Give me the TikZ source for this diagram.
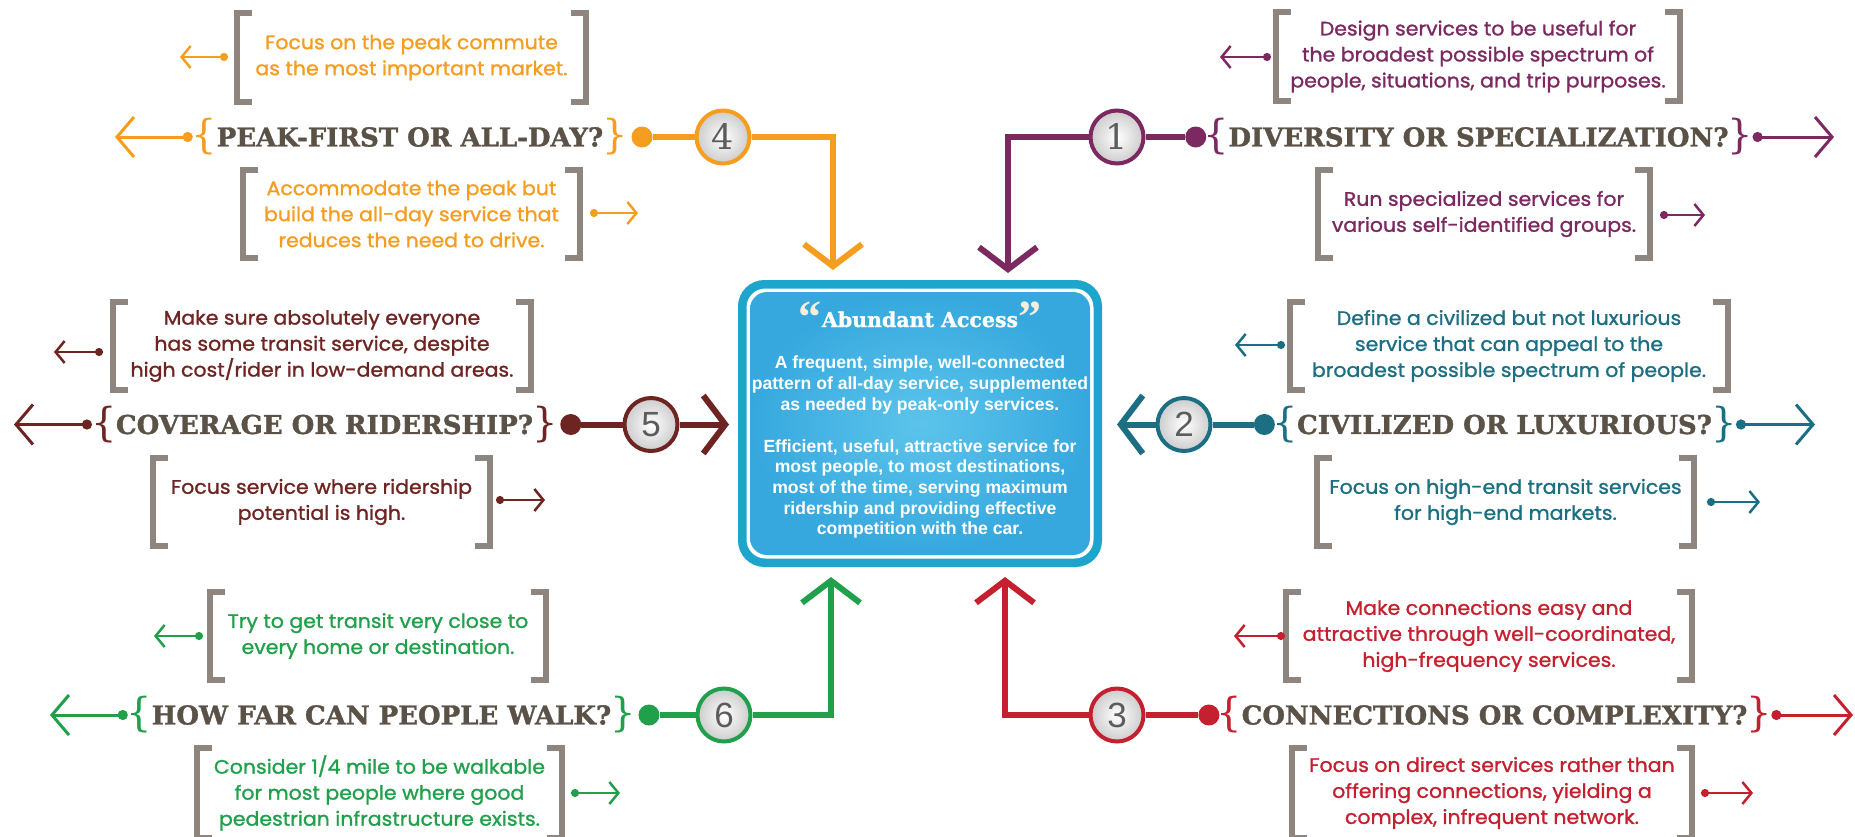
\documentclass[tikz,border=0pt]{standalone}
\usepackage{fontspec}
\usetikzlibrary{arrows.meta}
\setmainfont{Liberation Sans}
\newfontfamily\headfont{DejaVu Serif}[FakeBold=1.3]
\newfontfamily\bracefont{DejaVu Serif}
\newfontfamily\quotefont{Liberation Serif}
\newfontfamily\descfont{Poppins}[FakeBold=1.2,FakeStretch=1.05]
\newfontfamily\ctrfont{Liberation Sans}
\newfontfamily\numsans{Liberation Sans}
\newfontfamily\numserif{DejaVu Serif}
\definecolor{corange}{HTML}{F59D1F}
\definecolor{cpurple}{HTML}{7B2960}
\definecolor{cmaroon}{HTML}{6E2421}
\definecolor{cteal}{HTML}{1C6F83}
\definecolor{cgreen}{HTML}{21A04C}
\definecolor{cred}{HTML}{C4202F}
\definecolor{headgrey}{HTML}{5A5147}
\definecolor{brkgrey}{HTML}{8E867E}
\definecolor{boxedge}{HTML}{1DA5CC}
\definecolor{boxin}{HTML}{5CC4EB}
\definecolor{boxout}{HTML}{36A8DE}
\definecolor{numgrey}{HTML}{5C5C5C}
\definecolor{quotecol}{HTML}{F6EEDD}
\newcommand\brackets[1]{%
  \draw[brk] ([xshift=15pt]#1.north west) -- (#1.north west) -- (#1.south west) -- ([xshift=15pt]#1.south west);
  \draw[brk] ([xshift=-15pt]#1.north east) -- (#1.north east) -- (#1.south east) -- ([xshift=-15pt]#1.south east);}
\begin{document}
\begin{tikzpicture}[x=1pt,y=-1pt,
  conn/.style={line width=6pt},
  mainarr/.style={-{Straight Barb[length=22pt,width=58pt]}},
  endarr/.style={line width=3pt,{Circle[length=10pt,width=10pt]}-{Straight Barb[length=17pt,width=40pt]}},
  smallarr/.style={line width=2.5pt,{Circle[length=8pt,width=8pt]}-{Straight Barb[length=9pt,width=22pt]}},
  bigdot/.style={circle,inner sep=0pt,minimum size=21pt},
  numc/.style={circle,inner sep=0pt,minimum size=53pt,line width=4pt,shading=radial,inner color=white,outer color=black!20,text=numgrey,font=\numsans\fontsize{35}{35}\selectfont},
  head/.style={inner sep=0pt,text=headgrey,font=\headfont\bfseries\fontsize{26}{26}\selectfont},
  brace/.style={inner sep=0pt,font=\bracefont\fontsize{40}{40}\selectfont},
  desc/.style={inner sep=0pt,align=center,minimum height=88pt,font=\descfont\fontsize{19.5}{26}\selectfont},
  brk/.style={draw=brkgrey,line width=6pt},
  ctext/.style={inner sep=0pt,align=center,text=white,font=\ctrfont\bfseries\fontsize{17.6}{20.6}\selectfont}]
\useasboundingbox (0,0) rectangle (1855,836);
\fill[white] (0,0) rectangle (1855,836);

% ---------- centre box ----------
\node[draw=boxedge,fill=boxedge,line width=5pt,rounded corners=24pt,minimum width=359pt,minimum height=282pt] (ctr) at (920,423.5) {};
\node[fill=white,rounded corners=19pt,minimum width=347pt,minimum height=270pt] (ctrw) at (ctr) {};
\node[shading=radial,inner color=boxin,outer color=boxout,rounded corners=17pt,minimum width=340pt,minimum height=263pt] (ctri) at (ctr) {};
\node[inner sep=0pt,text=white,anchor=base,font=\headfont\bfseries\fontsize{20.5}{20.5}\selectfont] (title) at (920,327)
  {\raisebox{-5pt}{\quotefont\bfseries\color{quotecol}\fontsize{46}{46}\selectfont“}Abundant Access\raisebox{-5pt}{\quotefont\bfseries\color{quotecol}\fontsize{46}{46}\selectfont”}};
\node[ctext] (ct1) at (920,385) {A frequent, simple, well-connected\\pattern of all-day service, supplemented\\as needed by peak-only services.};
\node[ctext] (ct2) at (920,489) {Efficient, useful, attractive service for\\most people, to most destinations,\\most of the time, serving maximum\\ridership and providing effective\\competition with the car.};

% ---------- 4 : peak-first (orange) ----------
\node[desc,text=corange,minimum width=348pt] (b4t) at (411.5,57.5) {Focus on the peak commute\\as the most important market.};
\node[desc,text=corange,minimum width=337pt] (b4b) at (411.5,214) {Accommodate the peak but\\build the all-day service that\\reduces the need to drive.};
\brackets{b4t}\brackets{b4b}
\coordinate (b4ta) at (228,57); \coordinate (b4tz) at (180,57);
\coordinate (b4ba) at (590,213); \coordinate (b4bz) at (638,213);
\draw[corange,smallarr] (b4ta) -- (b4tz);
\draw[corange,smallarr] (b4ba) -- (b4bz);
\node[head] (b4h) at (410,137) {PEAK-FIRST OR ALL-DAY?};
\node[brace,text=corange,anchor=east] (b4lb) at ([xshift=1pt]b4h.west) {\{};
\node[brace,text=corange,anchor=west] (b4rb) at ([xshift=-1pt]b4h.east) {\}};
\coordinate (b4s) at ([xshift=1pt]b4lb.west);
\coordinate (b4tip) at (115,137);
\draw[corange,endarr] (b4s) -- (b4tip);
\node[bigdot,fill=corange,anchor=west] (b4dot) at ([xshift=3pt]b4rb.east) {};
\node[numc,draw=corange] (b4n) at (723,137) {\numserif 4};
\coordinate (b4end) at (833,270);
\draw[conn,corange] (b4dot) -- (b4n);
\draw[conn,corange,mainarr] (b4n) -| (b4end);

% ---------- 1 : diversity (purple) ----------
\node[desc,text=cpurple,minimum width=404pt] (b1t) at (1478,56.5) {Design services to be useful for\\the broadest possible spectrum of\\people, situations, and trip purposes.};
\node[desc,text=cpurple,minimum width=332pt] (b1b) at (1484,214) {Run specialized services for\\various self-identified groups.};
\brackets{b1t}\brackets{b1b}
\coordinate (b1ta) at (1271,57); \coordinate (b1tz) at (1220,57);
\coordinate (b1ba) at (1660,215); \coordinate (b1bz) at (1705,215);
\draw[cpurple,smallarr] (b1ta) -- (b1tz);
\draw[cpurple,smallarr] (b1ba) -- (b1bz);
\node[head] (b1h) at (1478.5,137) {DIVERSITY OR SPECIALIZATION?};
\node[brace,text=cpurple,anchor=east] (b1lb) at ([xshift=1pt]b1h.west) {\{};
\node[brace,text=cpurple,anchor=west] (b1rb) at ([xshift=-1pt]b1h.east) {\}};
\coordinate (b1s) at ([xshift=-1pt]b1rb.east);
\coordinate (b1tip) at (1834,137);
\draw[cpurple,endarr] (b1s) -- (b1tip);
\node[bigdot,fill=cpurple,anchor=east] (b1dot) at ([xshift=3pt]b1lb.west) {};
\node[numc,draw=cpurple] (b1n) at (1117,137) {\numserif 1};
\coordinate (b1end) at (1008,273);
\draw[conn,cpurple] (b1n) -- (b1dot);
\draw[conn,cpurple,mainarr] (b1n) -| (b1end);

% ---------- 5 : coverage (maroon) ----------
\node[desc,text=cmaroon,minimum width=418pt] (b5t) at (322,346) {Make sure absolutely everyone\\has some transit service, despite\\high cost/rider in low-demand areas.};
\node[desc,text=cmaroon,minimum width=337pt] (b5b) at (321.5,502) {Focus service where ridership\\potential is high.};
\brackets{b5t}\brackets{b5b}
\coordinate (b5ta) at (103,352); \coordinate (b5tz) at (54,352);
\coordinate (b5ba) at (496,500); \coordinate (b5bz) at (545,500);
\draw[cmaroon,smallarr] (b5ta) -- (b5tz);
\draw[cmaroon,smallarr] (b5ba) -- (b5bz);
\node[head] (b5h) at (324.5,424.5) {COVERAGE OR RIDERSHIP?};
\node[brace,text=cmaroon,anchor=east] (b5lb) at ([xshift=1pt]b5h.west) {\{};
\node[brace,text=cmaroon,anchor=west] (b5rb) at ([xshift=-1pt]b5h.east) {\}};
\coordinate (b5s) at ([xshift=1pt]b5lb.west);
\coordinate (b5tip) at (14,424.5);
\draw[cmaroon,endarr] (b5s) -- (b5tip);
\node[bigdot,fill=cmaroon,anchor=west] (b5dot) at ([xshift=2pt]b5rb.east) {};
\node[numc,draw=cmaroon] (b5n) at (651,424.5) {5};
\coordinate (b5end) at (729,424.5);
\draw[conn,cmaroon] (b5dot) -- (b5n);
\draw[conn,cmaroon,mainarr] (b5n) -- (b5end);

% ---------- 2 : civilized (teal) ----------
\node[desc,text=cteal,minimum width=438pt] (b2t) at (1509,346) {Define a civilized but not luxurious\\service that can appeal to the\\broadest possible spectrum of people.};
\node[desc,text=cteal,minimum width=377pt] (b2b) at (1505.5,502) {Focus on high-end transit services\\for high-end markets.};
\brackets{b2t}\brackets{b2b}
\coordinate (b2ta) at (1285,345); \coordinate (b2tz) at (1235,345);
\coordinate (b2ba) at (1707,502); \coordinate (b2bz) at (1760,502);
\draw[cteal,smallarr] (b2ta) -- (b2tz);
\draw[cteal,smallarr] (b2ba) -- (b2bz);
\node[head] (b2h) at (1504.5,424.5) {CIVILIZED OR LUXURIOUS?};
\node[brace,text=cteal,anchor=east] (b2lb) at ([xshift=1pt]b2h.west) {\{};
\node[brace,text=cteal,anchor=west] (b2rb) at ([xshift=-1pt]b2h.east) {\}};
\coordinate (b2s) at ([xshift=-1pt]b2rb.east);
\coordinate (b2tip) at (1815,424.5);
\draw[cteal,endarr] (b2s) -- (b2tip);
\node[bigdot,fill=cteal,anchor=east] (b2dot) at ([xshift=3pt]b2lb.west) {};
\node[numc,draw=cteal] (b2n) at (1184,424.5) {2};
\coordinate (b2end) at (1117,424.5);
\draw[conn,cteal] (b2n) -- (b2dot);
\draw[conn,cteal,mainarr] (b2n) -- (b2end);

% ---------- 6 : walk (green) ----------
\node[desc,text=cgreen,minimum width=336pt] (b6t) at (378,636) {Try to get transit very close to\\every home or destination.};
\node[desc,text=cgreen,minimum width=365pt,minimum height=90pt] (b6b) at (379.5,793) {Consider 1/4 mile to be walkable\\for most people where good\\pedestrian infrastructure exists.};
\brackets{b6t}\brackets{b6b}
\coordinate (b6ta) at (203,636); \coordinate (b6tz) at (154,636);
\coordinate (b6ba) at (571,793); \coordinate (b6bz) at (620,793);
\draw[cgreen,smallarr] (b6ta) -- (b6tz);
\draw[cgreen,smallarr] (b6ba) -- (b6bz);
\node[head] (b6h) at (381.5,715) {HOW FAR CAN PEOPLE WALK?};
\node[brace,text=cgreen,anchor=east] (b6lb) at ([xshift=1pt]b6h.west) {\{};
\node[brace,text=cgreen,anchor=west] (b6rb) at ([xshift=-1pt]b6h.east) {\}};
\coordinate (b6s) at ([xshift=1pt]b6lb.west);
\coordinate (b6tip) at (50,715);
\draw[cgreen,endarr] (b6s) -- (b6tip);
\node[bigdot,fill=cgreen,anchor=west] (b6dot) at ([xshift=2pt]b6rb.east) {};
\node[numc,draw=cgreen] (b6n) at (724,715) {6};
\coordinate (b6end) at (831,577);
\draw[conn,cgreen] (b6dot) -- (b6n);
\draw[conn,cgreen,mainarr] (b6n) -| (b6end);

% ---------- 3 : connections (red) ----------
\node[desc,text=cred,minimum width=406pt] (b3t) at (1489,636) {Make connections easy and\\attractive through well-coordinated,\\high-frequency services.};
\node[desc,text=cred,minimum width=400pt,minimum height=90pt] (b3b) at (1492,793) {Focus on direct services rather than\\offering connections, yielding a\\complex, infrequent network.};
\brackets{b3t}\brackets{b3b}
\coordinate (b3ta) at (1285,636); \coordinate (b3tz) at (1234,636);
\coordinate (b3ba) at (1701,793); \coordinate (b3bz) at (1753,793);
\draw[cred,smallarr] (b3ta) -- (b3tz);
\draw[cred,smallarr] (b3ba) -- (b3bz);
\node[head] (b3h) at (1494.5,715) {CONNECTIONS OR COMPLEXITY?};
\node[brace,text=cred,anchor=east] (b3lb) at ([xshift=1pt]b3h.west) {\{};
\node[brace,text=cred,anchor=west] (b3rb) at ([xshift=-1pt]b3h.east) {\}};
\coordinate (b3s) at ([xshift=-1pt]b3rb.east);
\coordinate (b3tip) at (1853,715);
\draw[cred,endarr] (b3s) -- (b3tip);
\node[bigdot,fill=cred,anchor=east] (b3dot) at ([xshift=3pt]b3lb.west) {};
\node[numc,draw=cred] (b3n) at (1117,715) {3};
\coordinate (b3end) at (1005,577);
\draw[conn,cred] (b3n) -- (b3dot);
\draw[conn,cred,mainarr] (b3n) -| (b3end);
\end{tikzpicture}
\end{document}
